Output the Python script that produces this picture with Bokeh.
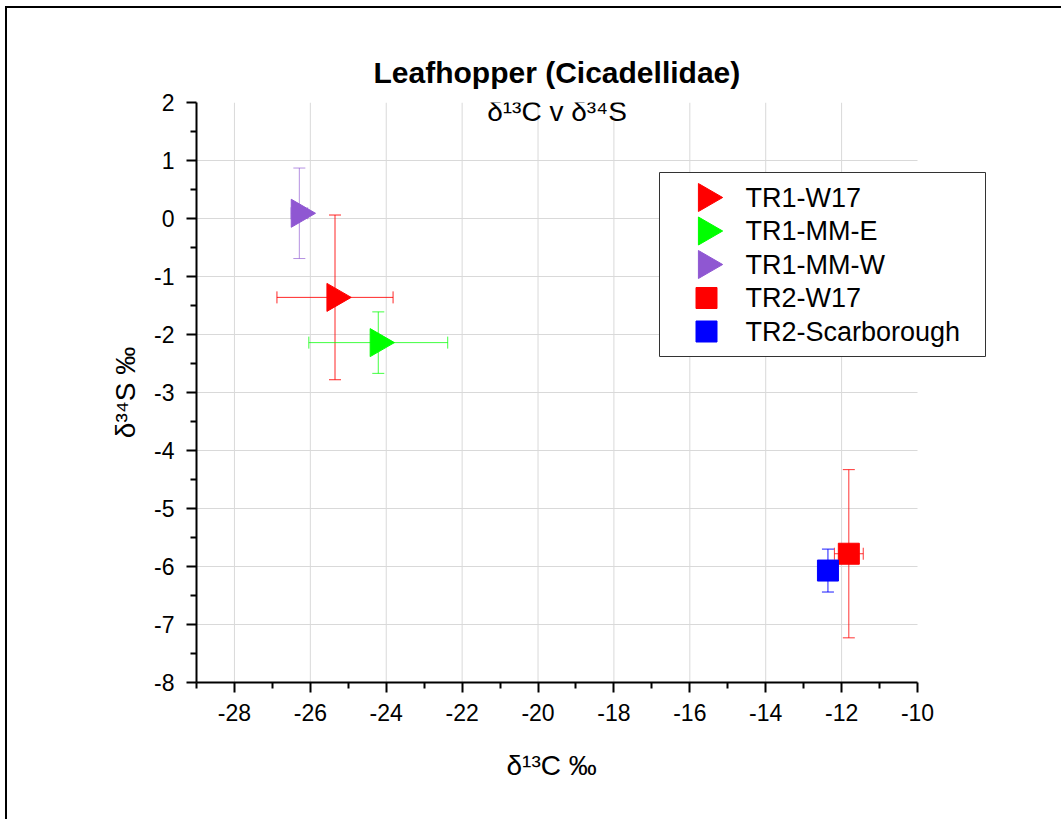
import math
from bokeh.plotting import figure
from bokeh.models import (ColumnDataSource, Whisker, TeeHead, FixedTicker, Label, Title)
from bokeh.embed import file_html
from bokeh.resources import INLINE

# ---------------- data ----------------
groups = ["TR1-W17", "TR1-MM-E", "TR1-MM-W", "TR2-W17", "TR2-Scarborough"]
d13c = [-25.35, -24.21, -26.29, -11.81, -12.36]
d34s = [-1.36, -2.14, 0.09, -5.78, -6.07]
d13c_err = [1.53, 1.83, 0.22, 0.38, 0.15]
d34s_err = [1.42, 0.53, 0.78, 1.45, 0.37]
markers = ["triangle", "triangle", "triangle", "square", "square"]
colors = ["#ff0000", "#00ff00", "#8f57d2", "#ff0000", "#0000ff"]

x_ticks = [-28, -26, -24, -22, -20, -18, -16, -14, -12, -10]
x_tick_labels = ["-28", "-26", "-24", "-22", "-20", "-18", "-16", "-14", "-12", "-10"]
x_minor = [-29, -27, -25, -23, -21, -19, -17, -15, -13, -11]
y_ticks = [-8, -7, -6, -5, -4, -3, -2, -1, 0, 1, 2]
y_tick_labels = ["-8", "-7", "-6", "-5", "-4", "-3", "-2", "-1", "0", "1", "2"]
y_minor = [-7.5, -6.5, -5.5, -4.5, -3.5, -2.5, -1.5, -0.5, 0.5, 1.5]

title_text = "Leafhopper (Cicadellidae)"
subtitle_text = "δ¹³C v δ³⁴S"
x_label = "δ¹³C ‰"
y_label = "δ³⁴S ‰"

# ---------------- layout ----------------
X0, X1 = -29, -10          # axis extent
Y0, Y1 = -8, 2
AX_W, AX_H = 721, 580      # pixel size of the axis extent
FW = 799                   # frame extends to the right so the legend box fits
FH = AX_H
PXX = AX_W / (X1 - X0)
PXY = AX_H / (Y1 - Y0)
X_END = X1 + (FW - AX_W) / PXX
FONT = "Liberation Sans"

p = figure(frame_width=FW, frame_height=FH,
           x_range=(X0, X_END), y_range=(Y0, Y1),
           min_border_left=189, min_border_right=66,
           min_border_top=94, min_border_bottom=137,
           margin=(8, 0, 0, 7),
           output_backend="svg", toolbar_location=None,
           styles={"box-shadow": "-2px 0px 0px 0px black, 0px -2px 0px 0px black, -2px -2px 0px 0px black"})
p.outline_line_color = None
p.background_fill_color = "white"
p.border_fill_color = "white"
p.grid.visible = False

def px_x(px):
    return X0 + px / PXX

def px_y(py):
    return Y1 - py / PXY

# axes
p.xaxis.ticker = FixedTicker(ticks=x_ticks, minor_ticks=x_minor)
p.yaxis.ticker = FixedTicker(ticks=y_ticks, minor_ticks=y_minor)
p.xaxis.major_label_overrides = dict(zip(x_ticks, x_tick_labels))
p.yaxis.major_label_overrides = dict(zip(y_ticks, y_tick_labels))
p.xaxis.bounds = (X0, X1)
p.yaxis.bounds = (Y0, Y1)
for ax in (p.xaxis[0], p.yaxis[0]):
    ax.axis_line_width = 2
    ax.axis_line_color = "black"
    ax.major_tick_line_width = 2
    ax.minor_tick_line_width = 2
    ax.major_tick_out = 10
    ax.major_tick_in = 0
    ax.minor_tick_out = 6
    ax.minor_tick_in = 0
    ax.major_label_text_font = FONT
    ax.major_label_text_font_size = "23px"
    ax.major_label_text_color = "black"
    ax.axis_label_text_font = FONT
    ax.axis_label_text_font_size = "28px"
    ax.axis_label_text_font_style = "normal"
    ax.axis_label_text_color = "black"
p.yaxis.axis_label = y_label
p.xaxis.major_label_standoff = 11
p.yaxis.major_label_standoff = 12
p.yaxis.axis_label_standoff = 10

# title (above panel) and x-axis label (below panel), positioned over the axis extent
p.title.text = title_text
p.title.text_font = FONT
p.title.text_font_size = "30px"
p.title.text_font_style = "bold"
p.title.text_color = "black"
p.title.align = "left"
p.title.offset = 177
p.title.standoff = 28
p.add_layout(Title(text=x_label, align="left", offset=310, standoff=52,
                   vertical_align="top", text_font=FONT, text_font_size="28px",
                   text_font_style="normal", text_color="black"), "below")

# grid lines within the axis extent
p.segment(x0=x_ticks[:-1], x1=x_ticks[:-1], y0=[Y0] * (len(x_ticks) - 1), y1=[Y1] * (len(x_ticks) - 1),
          line_color="#d9d9d9", line_width=1, level="underlay")
p.segment(x0=[X0] * (len(y_ticks) - 2), x1=[X1] * (len(y_ticks) - 2), y0=y_ticks[1:-1], y1=y_ticks[1:-1],
          line_color="#d9d9d9", line_width=1, level="underlay")

# error bars
alphas = [0.85, 0.75, 0.65, 0.8, 0.9]
for i, g in enumerate(groups):
    s = ColumnDataSource(dict(x=[d13c[i]], y=[d34s[i]],
                              xlo=[d13c[i] - d13c_err[i]], xhi=[d13c[i] + d13c_err[i]],
                              ylo=[d34s[i] - d34s_err[i]], yhi=[d34s[i] + d34s_err[i]]))
    c = colors[i]
    a = alphas[i]
    for base, lo, hi, dim in (("x", "ylo", "yhi", "height"), ("y", "xlo", "xhi", "width")):
        p.add_layout(Whisker(source=s, base=base, lower=lo, upper=hi, dimension=dim,
                             line_color=c, line_alpha=a, line_width=1, level="underlay",
                             upper_head=TeeHead(size=12, line_color=c, line_alpha=a, line_width=1),
                             lower_head=TeeHead(size=12, line_color=c, line_alpha=a, line_width=1)))

# markers
for i, g in enumerate(groups):
    size = 28 if markers[i] == "triangle" else 21
    ang = -math.pi / 2 if markers[i] == "triangle" else 0
    p.scatter(x=[d13c[i]], y=[d34s[i]], marker=markers[i], size=size, angle=ang,
              fill_color=colors[i], line_color=colors[i])

# subtitle inside the plot area
p.add_layout(Label(x=(X0 + X1) / 2, y=px_y(9), text=subtitle_text, text_align="center",
                   text_baseline="alphabetic", text_font=FONT, text_font_size="28px",
                   text_color="black"))

# legend (box, swatches, labels) in pixel layout relative to the axis extent
LEG_L, LEG_R, LEG_T, LEG_B = 463, 789, 70, 254
ROW0, ROW_STEP = 95, 33.5
SW_X, TXT_X = 510, 549
p.quad(left=[px_x(LEG_L)], right=[px_x(LEG_R)], top=[px_y(LEG_T)], bottom=[px_y(LEG_B)],
       fill_color="white", line_color="#333333", line_width=1)
for i, g in enumerate(groups):
    size = 28 if markers[i] == "triangle" else 21
    ang = -math.pi / 2 if markers[i] == "triangle" else 0
    cy = ROW0 + i * ROW_STEP
    p.scatter(x=[px_x(SW_X)], y=[px_y(cy)], marker=markers[i], size=size, angle=ang,
              fill_color=colors[i], line_color=colors[i])
    p.add_layout(Label(x=px_x(TXT_X), y=px_y(cy), text=g, text_align="left",
                       text_baseline="middle", text_font=FONT, text_font_size="27px",
                       text_color="black"))

open("out.html", "w").write(file_html(p, INLINE))
